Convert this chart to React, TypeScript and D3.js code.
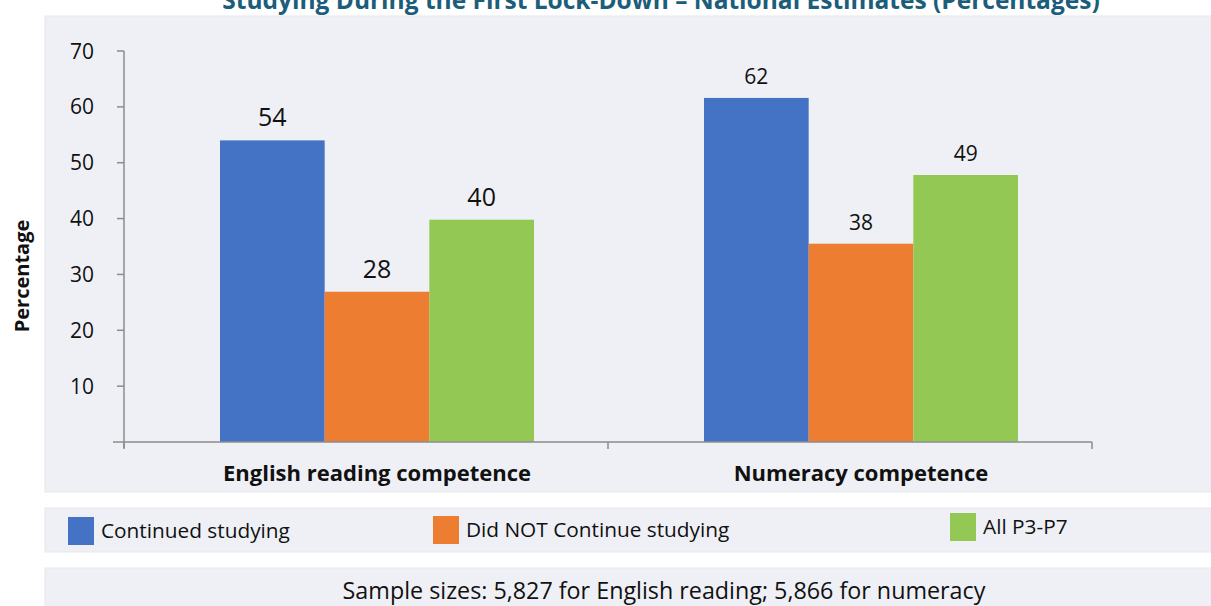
import React from "react";
import * as d3 from "d3";

const categories = ["English reading competence", "Numeracy competence"];
const seriesNames = ["Continued studying", "Did NOT Continue studying", "All P3-P7"];
const englishValues = [54, 26.9, 39.8];
const numeracyValues = [61.6, 35.5, 47.8];
const englishLabels = ["54", "28", "40"];
const numeracyLabels = ["62", "38", "49"];
const yTicks = [10, 20, 30, 40, 50, 60, 70];
const titleText = "Studying During the First Lock-Down \u2013 National Estimates (Percentages)";
const sampleText = "Sample sizes: 5,827 for English reading; 5,866 for numeracy";

const colors = ["#4472c4", "#ed7d31", "#92c853"];
const FONT = "'Open Sans', Lato, sans-serif";

export default function App() {
  const W = 1211;
  const H = 606;
  const y = d3.scaleLinear().domain([0, 70]).range([442, 51]);
  const x = d3.scaleBand<string>().domain(categories).range([124, 1092]).paddingInner(0).paddingOuter(0);
  const inner = d3.scaleBand<string>().domain(seriesNames).range([-146, 168]);
  const values = [englishValues, numeracyValues];
  const labels = [englishLabels, numeracyLabels];
  const labelSize = [25, 21];
  const axisColor = "#8c8c8c";
  const legendX = [68, 433, 950];
  const legendDy = [0, -1, -4];
  const groupCenter = (c: string) => (x(c) as number) + x.bandwidth() / 2 + 11;

  return (
    <svg width={W} height={H} style={{ position: "absolute", left: 0, top: 0, background: "#fff" }}>
      <rect x={45} y={16} width={W - 45} height={476} fill="#eff0f5" stroke="#e6e7ec" />
      <rect x={45} y={508} width={W - 45} height={44} fill="#eff0f5" stroke="#e6e7ec" />
      <rect x={45} y={568} width={W - 45} height={40} fill="#eff0f5" stroke="#e6e7ec" />

      <text x={661} y={9} textAnchor="middle" fontFamily={FONT} fontWeight={700} fontSize={24.5} fill="#1b5d7a">
        {titleText}
      </text>

      {/* bars */}
      {categories.map((c, ci) => (
        <g key={c} transform={`translate(${(x(c) as number) + x.bandwidth() / 2},0)`}>
          {seriesNames.map((s, si) => (
            <rect
              key={s}
              x={inner(s) as number}
              y={y(values[ci][si])}
              width={inner.bandwidth()}
              height={y(0) - y(values[ci][si])}
              fill={colors[si]}
            />
          ))}
          {seriesNames.map((s, si) => (
            <text
              key={s + "l"}
              x={(inner(s) as number) + inner.bandwidth() / 2}
              y={y(values[ci][si]) - 14}
              textAnchor="middle"
              fontFamily={FONT}
              fontSize={labelSize[ci]}
              fill="#111"
            >
              {labels[ci][si]}
            </text>
          ))}
        </g>
      ))}

      {/* y axis */}
      <line x1={124} x2={124} y1={y(70)} y2={y(0) + 6} stroke={axisColor} strokeWidth={1.5} />
      {yTicks.map((t) => (
        <g key={t}>
          <line x1={117} x2={124} y1={y(t)} y2={y(t)} stroke={axisColor} strokeWidth={1.5} />
          <text x={94} y={y(t)} dy="0.36em" textAnchor="end" fontFamily={FONT} fontSize={21} fill="#111">
            {t}
          </text>
        </g>
      ))}
      {/* x axis */}
      <line x1={113} x2={1092} y1={y(0)} y2={y(0)} stroke={axisColor} strokeWidth={1.5} />
      {[124, ...categories.map((c) => (x(c) as number) + x.bandwidth())].map((tx, i) => (
        <line key={i} x1={tx} x2={tx} y1={y(0)} y2={y(0) + 7} stroke={axisColor} strokeWidth={1.5} />
      ))}
      {categories.map((c) => (
        <text key={c} x={groupCenter(c)} y={481} textAnchor="middle" fontFamily={FONT} fontWeight={700} fontSize={22} fill="#111">
          {c}
        </text>
      ))}

      <text
        transform={`translate(29,276) rotate(-90)`}
        textAnchor="middle"
        fontFamily={FONT}
        fontWeight={700}
        fontSize={20}
        fill="#111"
      >
        Percentage
      </text>

      {/* legend */}
      {seriesNames.map((s, i) => (
        <g key={s}>
          <rect x={legendX[i]} y={517 + legendDy[i]} width={26} height={28} fill={colors[i]} />
          <text x={legendX[i] + 33} y={531 + legendDy[i]} dy="0.36em" fontFamily={FONT} fontSize={20.8} fill="#111">
            {s}
          </text>
        </g>
      ))}

      <text x={664} y={591} dy="0.36em" textAnchor="middle" fontFamily={FONT} fontSize={23.3} fill="#111">
        {sampleText}
      </text>
    </svg>
  );
}
